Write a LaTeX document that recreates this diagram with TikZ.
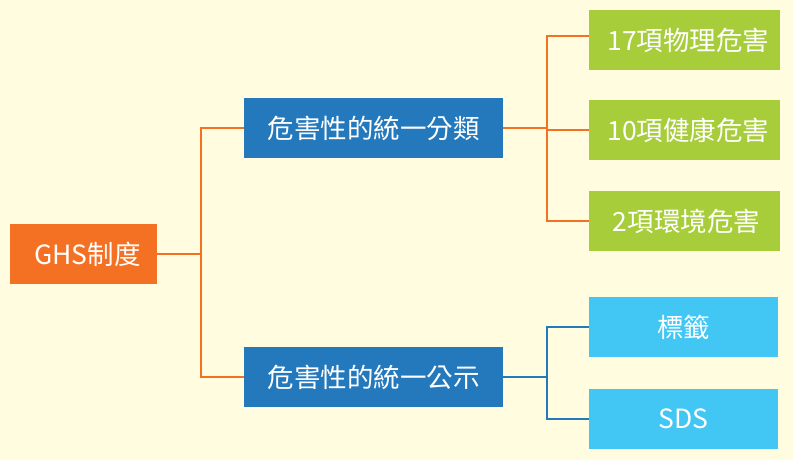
\documentclass[tikz,border=0pt]{standalone}
\usepackage{fontspec}
\newfontfamily\cjk{Noto Sans CJK TC}
\usepackage{tikz}
\usetikzlibrary{positioning,calc}
\usepackage{xcolor}
\definecolor{gbg}{HTML}{FFFCE0}
\definecolor{gorange}{HTML}{F47022}
\definecolor{gblue}{HTML}{2479BD}
\definecolor{ggreen}{HTML}{A7CD3A}
\definecolor{gcyan}{HTML}{42C6F3}
\tikzset{
  box/.style      = {rectangle, inner sep=0pt, text=white, minimum height=60pt,
                     font=\cjk\fontsize{26.5}{30}\selectfont},
  rootbox/.style  = {box, fill=gorange, minimum width=147pt},
  midbox/.style   = {box, fill=gblue, minimum width=259pt},
  leafbox/.style  = {box, fill=ggreen, minimum width=191pt},
  docbox/.style   = {box, fill=gcyan, minimum width=189pt},
  olink/.style    = {draw=gorange, line width=2pt},
  blink/.style    = {draw=gblue, line width=2pt},
}

\begin{document}
\begin{tikzpicture}[x=1pt,y=-1pt]
\useasboundingbox[fill=gbg] (0,0) rectangle (793,460);
\node[rootbox] (ghs) at (83.5,254) {\hspace{8pt}GHS制度};
\node[midbox] (cls) at (373.5,128) {危害性的統一分類};
\node[midbox] (com) at (373.5,377) {危害性的統一公示};
\node[leafbox] (phy) at (684.5,40) {\hspace{8pt}17項物理危害};
\node[leafbox] (hea) at (684.5,130) {\hspace{8pt}10項健康危害};
\node[leafbox] (env) at (684.5,221) {\hspace{4pt}2項環境危害};
\node[docbox] (lab) at (683.5,327) {標籤};
\node[docbox] (sds) at (683.5,419) {SDS};
% branch points
\draw[olink] (ghs.east) -- ++(44,0) coordinate (j1);
\draw[olink] (j1) |- (cls.west);
\draw[olink] (j1) |- (com.west);
\draw[olink] (cls.east) -- ++(44,0) coordinate (j2);
\draw[olink] (j2) |- ($(phy.west)+(0,-4)$);
\draw[olink] (j2) |- (hea.west);
\draw[olink] (j2) |- (env.west);
\draw[blink] (com.east) -- ++(44,0) coordinate (j3);
\draw[blink] (j3) |- (lab.west);
\draw[blink] (j3) |- (sds.west);
\end{tikzpicture}
\end{document}
